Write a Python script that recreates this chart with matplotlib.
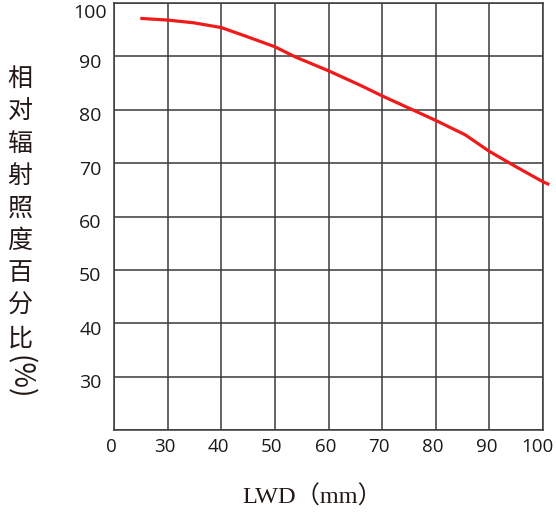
import matplotlib
matplotlib.use("Agg")
import matplotlib.pyplot as plt
from matplotlib.transforms import ScaledTranslation

# curve
lwd = [25.2, 30, 34.8, 40, 44.8, 50, 53.8, 60, 65.9, 70, 75, 80, 85.5, 90, 95, 100, 100.9]
irradiance = [97.1, 96.8, 96.3, 95.4, 93.7, 91.8, 89.9, 87.3, 84.6, 82.6, 80.3, 78.0, 75.3, 72.2, 69.3, 66.5, 66.1]

x_ticks = [20, 30, 40, 50, 60, 70, 80, 90, 100]
x_ticklabels = ["0", "30", "40", "50", "60", "70", "80", "90", "100"]
y_ticks = [20, 30, 40, 50, 60, 70, 80, 90, 100]
y_ticklabels = ["", "30", "40", "50", "60", "70", "80", "90", "100"]

grid_col = "#3a3a3a"
text_col = "#231815"

fig = plt.figure(figsize=(5.56, 5.12), dpi=100)
ax = fig.add_axes([114 / 556, 1 - 430 / 512, (543 - 114) / 556, (430 - 3) / 512])

ax.plot(lwd, irradiance, color="#f01a1a", lw=2.3, clip_on=False, zorder=3)

ax.set_xlim(20, 100)
ax.set_ylim(20, 100)
ax.set_xticks(x_ticks)
ax.set_xticklabels(x_ticklabels, fontfamily="Open Sans", fontsize=13.5, color="#1a1a1a")
ax.set_yticks(y_ticks)
ax.set_yticklabels(y_ticklabels, fontfamily="Open Sans", fontsize=14, color="#1a1a1a")
ax.tick_params(axis="y", length=0, pad=17)
ax.tick_params(axis="x", length=0, pad=6)

# nudge the tick labels the way the reference sits them
px = 1 / fig.dpi
for lab in ax.get_yticklabels():
    lab.set_ha("center")
    dy = -8 if lab.get_text() == "100" else -4.5
    lab.set_transform(lab.get_transform() + ScaledTranslation(0, dy * px, fig.dpi_scale_trans))
for lab in ax.get_xticklabels():
    dx = -5.5 if lab.get_text() == "100" else -3
    lab.set_transform(lab.get_transform() + ScaledTranslation(dx * px, 0, fig.dpi_scale_trans))

ax.grid(True, color=grid_col, lw=1.1)
ax.set_axisbelow(True)
for sp in ax.spines.values():
    sp.set_color(grid_col)
    sp.set_linewidth(1.1)

# vertical Chinese y label, with the bracketed unit turned sideways
fig.text(20 / 556, 1 - 66 / 512, "\n".join("相对辐射照度百分比"), family="Noto Sans CJK SC",
         fontsize=18, ha="center", va="top", linespacing=1.32, color=text_col)
fig.text(19 / 556, 1 - 377 / 512, "(%)", family="Noto Sans CJK SC",
         fontsize=20, rotation=270, ha="center", va="center", color=text_col)

fig.text(312 / 556, 1 - 497 / 512, "LWD（mm）", family=["Liberation Serif", "Noto Sans CJK SC"],
         fontsize=17.5, ha="center", va="center", color=text_col)

fig.savefig("out.png", dpi=100, facecolor="white")
